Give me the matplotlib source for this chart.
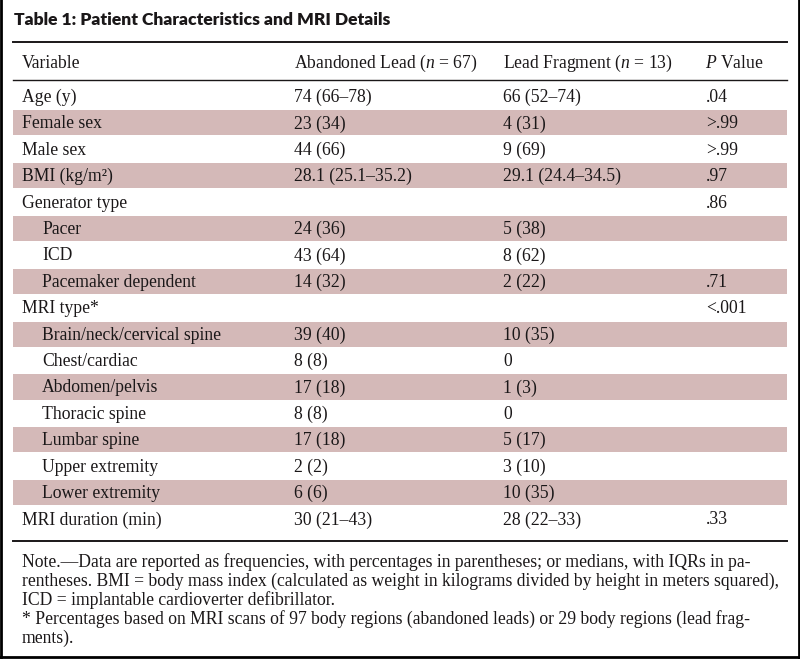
import matplotlib
matplotlib.use("Agg")
import matplotlib.pyplot as plt
from matplotlib.patches import Rectangle

plt.rcParams['font.family'] = ['Liberation Serif', 'DejaVu Serif']
plt.rcParams['mathtext.fontset'] = 'custom'
plt.rcParams['mathtext.rm'] = 'Liberation Serif'
plt.rcParams['mathtext.it'] = 'Liberation Serif:italic'

title = "Table 1: Patient Characteristics and MRI Details"
headers = ["Variable", "Abandoned Lead ($n$ = 67)", "Lead Fragment ($n$ = 13)", "$P$ Value"]

variables = ["Age (y)", "Female sex", "Male sex", "BMI (kg/m\u00b2)", "Generator type",
             "Pacer", "ICD", "Pacemaker dependent", "MRI type*",
             "Brain/neck/cervical spine", "Chest/cardiac", "Abdomen/pelvis",
             "Thoracic spine", "Lumbar spine", "Upper extremity", "Lower extremity",
             "MRI duration (min)"]
indented = [False, False, False, False, False, True, True, True, False,
            True, True, True, True, True, True, True, False]
abandoned = ["74 (66\u201378)", "23 (34)", "44 (66)", "28.1 (25.1\u201335.2)", "",
             "24 (36)", "43 (64)", "14 (32)", "",
             "39 (40)", "8 (8)", "17 (18)", "8 (8)", "17 (18)", "2 (2)", "6 (6)",
             "30 (21\u201343)"]
fragment = ["66 (52\u201374)", "4 (31)", "9 (69)", "29.1 (24.4\u201334.5)", "",
            "5 (38)", "8 (62)", "2 (22)", "",
            "10 (35)", "0", "1 (3)", "0", "5 (17)", "3 (10)", "10 (35)",
            "28 (22\u201333)"]
pvalues = [".04", ">.99", ">.99", ".97", ".86", "", "", ".71", "<.001",
           "", "", "", "", "", "", "", ".33"]

notes = [
    "Note.\u2014Data are reported as frequencies, with percentages in parentheses; or medians, with IQRs in pa-",
    "rentheses. BMI = body mass index (calculated as weight in kilograms divided by height in meters squared),",
    "ICD = implantable cardioverter defibrillator.",
    "* Percentages based on MRI scans of 97 body regions (abandoned leads) or 29 body regions (lead frag-",
    "ments).",
]

fig = plt.figure(figsize=(8, 6.62), dpi=100)
ax = fig.add_axes([0, 0, 1, 1])
ax.set_xlim(0, 800)
ax.set_ylim(662, 0)
ax.axis('off')

left, right = 13, 787
col_x = [22, 294, 503, 705]
fs = 12.7
ink = '#1a1718'
shade = '#d4b9b8'

ax.text(14, 20, title, fontsize=12.6, fontweight='heavy', family=['Lato', 'DejaVu Sans'],
        va='center', ha='left', color=ink)
ax.plot([left, right], [42, 42], color=ink, lw=1.4)
for x, h in zip(col_x, headers):
    ax.text(x, 63, h, fontsize=fs, va='center', ha='left', color=ink)
ax.plot([left, right], [80, 80], color=ink, lw=1.0)

row_h = 26.4
y0 = 96.5
for i, var in enumerate(variables):
    y = y0 + i * row_h
    # every second row carries the rose band
    if i % 2 == 1:
        ax.add_patch(Rectangle((left, y - row_h / 2 + 0.6), right - left, row_h - 1.2,
                               color=shade, lw=0))
    ty = y + 1
    ax.text(col_x[0] + (20 if indented[i] else 0), ty, var, fontsize=fs,
            va='center', ha='left', color=ink)
    ax.text(col_x[1], ty, abandoned[i], fontsize=fs, va='center', ha='left', color=ink)
    ax.text(col_x[2], ty, fragment[i], fontsize=fs, va='center', ha='left', color=ink)
    ax.text(col_x[3] + 1, ty, pvalues[i], fontsize=fs, va='center', ha='left', color=ink)

ax.plot([left, right], [541, 541], color=ink, lw=1.4)
for j, line in enumerate(notes):
    ax.text(22, 562 + j * 19, line, fontsize=fs, va='center', ha='left', color=ink)

# frame of the image
ax.plot([1, 1], [0, 657], color='black', lw=2)
ax.plot([799, 799], [0, 657], color='black', lw=2)
ax.plot([0, 800], [657, 657], color='black', lw=2)

fig.savefig("out.png", dpi=100)
